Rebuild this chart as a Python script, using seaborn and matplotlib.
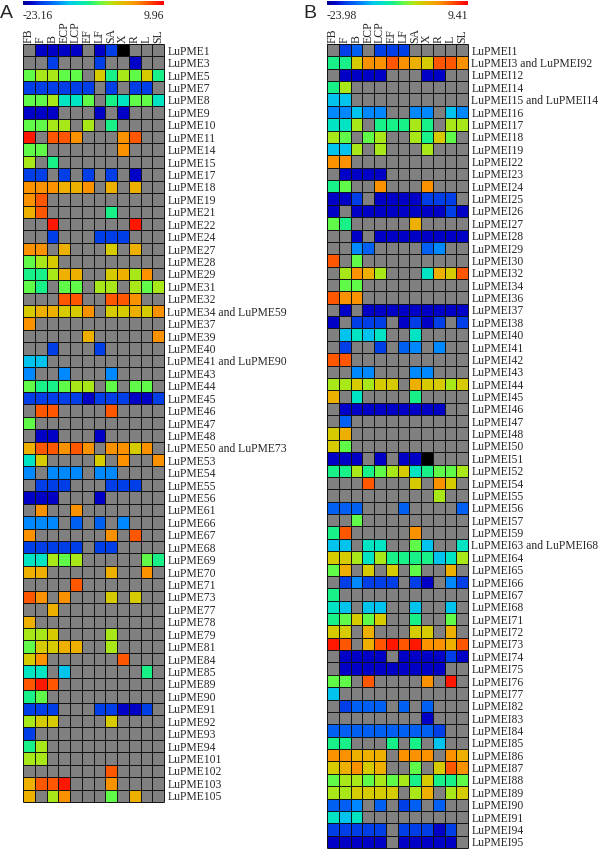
import numpy as np
import pandas as pd
import matplotlib
matplotlib.use("Agg")
import matplotlib.pyplot as plt
import seaborn as sns
from matplotlib.colors import LinearSegmentedColormap

# ---------------- data ----------------
COLUMNS = ["FB", "F", "B", "ECP", "LCP", "EF", "LF", "SA", "X", "R", "L", "SL"]

A_RANGE = (-23.16, 9.96)
B_RANGE = (-23.98, 9.41)

A_GENES = ["LuPME1", "LuPME3", "LuPME5", "LuPME7", "LuPME8", "LuPME9", "LuPME10", "LuPME11",
           "LuPME14", "LuPME15", "LuPME17", "LuPME18", "LuPME19", "LuPME21", "LuPME22", "LuPME24",
           "LuPME27", "LuPME28", "LuPME29", "LuPME31", "LuPME32", "LuPME34 and LuPME59", "LuPME37",
           "LuPME39", "LuPME40", "LuPME41 and LuPME90", "LuPME43", "LuPME44", "LuPME45", "LuPME46",
           "LuPME47", "LuPME48", "LuPME50 and LuPME73", "LuPME53", "LuPME54", "LuPME55", "LuPME56",
           "LuPME61", "LuPME66", "LuPME67", "LuPME68", "LuPME69", "LuPME70", "LuPME71", "LuPME73",
           "LuPME77", "LuPME78", "LuPME79", "LuPME81", "LuPME84", "LuPME85", "LuPME89", "LuPME90",
           "LuPME91", "LuPME92", "LuPME93", "LuPME94", "LuPME101", "LuPME102", "LuPME103", "LuPME105"]

# colour level read for each cell ('.' = no data, 'K' = below scale / black)
A_CELLS = [
    ". N N N N . N B K . . .",
    ". . B . . . B . . N . .",
    "G Y Y G G . y S Y G y S",
    "B B B B B B . B . B B .",
    "G G Y A A G . S A G G A",
    "N N N . . . N . N . . .",
    "G G Y Y . Y . S . . . .",
    "r . R R o . . . o R . .",
    "G G . . . . . . o . . .",
    "Y . S . . . . . . . . .",
    "B B . B . B . B . N . .",
    "o o o O O o . O . O . .",
    "o R . . . . . . . . . .",
    "O R . . . . . S . . . .",
    ". . r . . . . . . r . .",
    ". . B . . . B B B . . .",
    "o o . O . . . y . O . .",
    "G Y y . . . . . . . . .",
    "S S Y O O . . y O Y o .",
    "G S . G G . Y Y . Y G Y",
    ". . . R R . . R R o . .",
    "y O O y y o . y y O y o",
    "o . . . . . . . . . . .",
    ". . . . . O . . . . . o",
    ". . B . . . B . . . . .",
    "C C . . . . . . . . . .",
    "L . . L . . . L . . . .",
    "G S S G Y Y . G . G G .",
    "B B B B B N B B B N N B",
    ". R R . . . . R . . . .",
    "G . . . . . . . . . . .",
    ". N N . . . N . . . . .",
    "O R R o R o . o o y o .",
    "A y . . . . y . o . . o",
    "L . L L L . L L . . . .",
    ". B B B . . . B B B . .",
    "N N N . . . N . . . . .",
    ". o . . o . . . . . . .",
    "L L L . b . b . L . . .",
    "o . . . . . . o . R . .",
    "B B B B B . B B . . . .",
    "A A Y G Y . . . . . G S",
    "O O . . . . . O . . o .",
    ". . . . R . . . . . . .",
    "R o . o . . . y . y . .",
    ". . O . . . . . . . . .",
    "O . . . . . . . . . . .",
    "Y Y y . . . . Y . . . .",
    "G y y O O . . Y . . . .",
    "y o . . . . . . R . . .",
    "A A . C . . . . . . S .",
    "R r R . . . . . . . . .",
    "S G . . . . . . . . . .",
    "B B B . . . B B N N B .",
    "Y y y . . . . y . . . .",
    "B . . . . . . . . . . .",
    "S Y . . . . . . . . . .",
    "Y Y . . . . . . . . . .",
    ". . . . . . . R . . . .",
    "O R R r . . . o . . . .",
    "O . Y o . . . G . O . .",
]

B_GENES = ["LuPMEI1", "LuPMEI3 and LuPMEI92", "LuPMEI12", "LuPMEI14", "LuPMEI15 and LuPMEI14",
           "LuPMEI16", "LuPMEI17", "LuPMEI18", "LuPMEI19", "LuPMEI22", "LuPMEI23", "LuPMEI24",
           "LuPMEI25", "LuPMEI26", "LuPMEI27", "LuPMEI28", "LuPMEI29", "LuPMEI30", "LuPMEI32",
           "LuPMEI34", "LuPMEI36", "LuPMEI37", "LuPMEI38", "LuPMEI40", "LuPMEI41", "LuPMEI42",
           "LuPMEI43", "LuPMEI44", "LuPMEI45", "LuPMEI46", "LuPMEI47", "LuPMEI48", "LuPMEI50",
           "LuPMEI51", "LuPMEI52", "LuPMEI54", "LuPMEI55", "LuPMEI56", "LuPMEI57", "LuPMEI59",
           "LuPMEI63 and LuPMEI68", "LuPMEI64", "LuPMEI65", "LuPMEI66", "LuPMEI67", "LuPMEI68",
           "LuPMEI71", "LuPMEI72", "LuPMEI73", "LuPMEI74", "LuPMEI75", "LuPMEI76", "LuPMEI77",
           "LuPMEI82", "LuPMEI83", "LuPMEI84", "LuPMEI85", "LuPMEI86", "LuPMEI87", "LuPMEI88",
           "LuPMEI89", "LuPMEI90", "LuPMEI91", "LuPMEI94", "LuPMEI95"]

B_CELLS = [
    ". B b . B B B . . . . .",
    "S S y o o R o O y R R o",
    ". N N N N . . . N N . .",
    "S Y . . . . . . . . . .",
    "C C . . . . . . . . . .",
    "L L C L L . . L L . C L",
    "A A Y . S S S Y S . Y Y",
    "Y G . G Y . . Y S y G .",
    "C C Y . Y . . . Y . . .",
    "o o . . . . . . . . . .",
    ". N N N N . . . . . . .",
    "S G . . o . . . o . . .",
    "N N B . N N N N B B B .",
    "N . N N N N N N N N B N",
    "G S . . . . . O . . . .",
    ". . N . N N N N N N N N",
    ". . L b . . . . b L . .",
    "R . G . . . . . . . . .",
    ". Y o O Y . . . A O y R",
    ". G G . . . . . . . . .",
    "R o o . . . . . . . . .",
    ". N . N N N N N N N N N",
    "N . B B B . N B N B . B",
    ". C A C A . . A . . . .",
    ". B . . B . b L . L . .",
    "R R . . . . . . . . . .",
    ". . L L . . . L L . . .",
    "Y Y y Y y y . O y y Y y",
    "O . A . . . . S . . . .",
    ". N N N N N N N N N . .",
    ". b . . . . . . . . . .",
    "y O . . . . . . . . . .",
    "y G . . . . . . . . . .",
    "N N N . N . N N K . . .",
    "S S Y S G Y y A S G G Y",
    ". . . R . . . y . o y .",
    ". . . . . . . . . Y . .",
    "b b b . . . b . . . . b",
    ". . G . . . . . . . . .",
    "S R . . . . . o . . . .",
    "C C . A A . . G C . . A",
    "y y Y A Y S S S S C A Y",
    "G O . y . y . G . . O .",
    ". B L B B B . B N . L B",
    "S . . . . . . . . . . .",
    "A C . C C . . C . . C .",
    "S G y G y . . S . . G .",
    "y y . O . . . y y . O .",
    "r R . O R r R r o o O R",
    ". N N N N . N N N N B N",
    ". N N N N N N N N N . .",
    "G G . R . . . . o . r .",
    "C . . . . . . . . . . .",
    ". B b b b . b . b . . .",
    ". . . . . . . . N . . .",
    "b b b b b b b b b B . .",
    "S S . . . S . S . C . .",
    "o o O O O . o o o . o O",
    "y O o y O . . G . y R o",
    "G Y Y G Y G Y S y S S G",
    "Y Y y y y y . Y O . Y y",
    "b b L . b . B b . b . .",
    "A C A . . . . . . . . .",
    "B B B B B . B B B N B .",
    "N N N N N . N N N N N .",
]

# position of each colour level along the colour scale (0 = min, 1 = max)
LEVEL = {"N": 0.06, "B": 0.13, "b": 0.19, "L": 0.25, "C": 0.32, "A": 0.40, "S": 0.47,
         "G": 0.54, "Y": 0.61, "y": 0.67, "O": 0.73, "o": 0.80, "R": 0.88, "r": 0.96}


def to_frame(cells, genes, rng):
    vmin, vmax = rng
    rows = []
    for line in cells:
        vals = []
        for c in line.split():
            if c == ".":
                vals.append(np.nan)
            elif c == "K":
                vals.append(vmin - 5.0)
            else:
                vals.append(vmin + LEVEL[c] * (vmax - vmin))
        rows.append(vals)
    assert len(rows) == len(genes)
    return pd.DataFrame(rows, index=genes, columns=COLUMNS)


dfA = to_frame(A_CELLS, A_GENES, A_RANGE)
dfB = to_frame(B_CELLS, B_GENES, B_RANGE)

# ---------------- style ----------------
anchors = [(0.0, "#000090"), (0.06, "#0000C8"), (0.13, "#0040E8"), (0.19, "#0060F4"),
           (0.25, "#0088FF"), (0.32, "#00C4EE"), (0.40, "#00E4C4"), (0.47, "#18F088"),
           (0.54, "#60FA48"), (0.61, "#A8E818"), (0.67, "#D4CC00"), (0.73, "#EEB000"),
           (0.80, "#FA9200"), (0.88, "#FF5800"), (0.96, "#FF1800"), (1.0, "#FF0000")]
cmap = LinearSegmentedColormap.from_list("jetlike", anchors, N=512)
cmap.set_bad("#808080")
cmap.set_under("black")

sns.set_style("white")
plt.rcParams["font.family"] = ["Liberation Serif", "DejaVu Serif"]

W, H = 600, 850
fig = plt.figure(figsize=(6, 8.5), dpi=100)


def fx(px):
    return px / W


def fy(py):
    return 1 - py / H


def panel(df, rng, x0, y_top, y_bot, letter, letter_x):
    ax = fig.add_axes([fx(x0), fy(y_bot), fx(141), (y_bot - y_top) / H])
    cax = fig.add_axes([fx(x0), fy(5), fx(141), 4 / H])
    ax.set_facecolor("#808080")
    sns.heatmap(df, ax=ax, cmap=cmap, vmin=rng[0], vmax=rng[1],
                linewidths=0,
                cbar=True, cbar_ax=cax, cbar_kws={"orientation": "horizontal"},
                xticklabels=COLUMNS, yticklabels=list(df.index))
    cb = ax.collections[0].colorbar
    cb.outline.set_visible(False)
    cb.set_ticks([])
    cax.tick_params(length=0)

    # cell borders (drawn for every cell, including the empty grey ones)
    nr, nc = df.shape
    ax.hlines(np.arange(nr + 1), 0, nc, colors="#111111", linewidth=0.7, zorder=5,
              clip_on=False)
    ax.vlines(np.arange(nc + 1), 0, nr, colors="#111111", linewidth=0.7, zorder=5,
              clip_on=False)
    for s in ax.spines.values():
        s.set_visible(False)

    ax.xaxis.tick_top()
    ax.tick_params(axis="x", top=True, bottom=False, labeltop=True,
                   labelbottom=False, length=0, pad=1)
    ax.set_xticks(np.arange(nc) + 0.5)
    ax.set_xticklabels(COLUMNS, rotation=90, fontsize=8.5)
    ax.yaxis.tick_right()
    ax.tick_params(axis="y", left=False, right=True, labelleft=False,
                   labelright=True, length=0, pad=2.5)
    ax.set_yticks(np.arange(nr) + 0.5)
    ax.set_yticklabels(list(df.index), rotation=0, fontsize=8.4)
    ax.set_xlabel("")
    ax.set_ylabel("")

    fig.text(fx(x0), fy(16), f"{rng[0]:.2f}", ha="left", va="center", fontsize=8.5)
    fig.text(fx(x0 + 141), fy(16), f"{rng[1]:.2f}", ha="right", va="center", fontsize=8.5)
    fig.text(fx(letter_x), fy(14), letter, ha="center", va="center", fontsize=14,
             family=["Liberation Sans", "DejaVu Sans"])
    return ax


panel(dfA, A_RANGE, 23, 44, 802, "A", 6)
panel(dfB, B_RANGE, 327, 44, 848, "B", 310)

fig.savefig("out.png", dpi=100, facecolor="white")
